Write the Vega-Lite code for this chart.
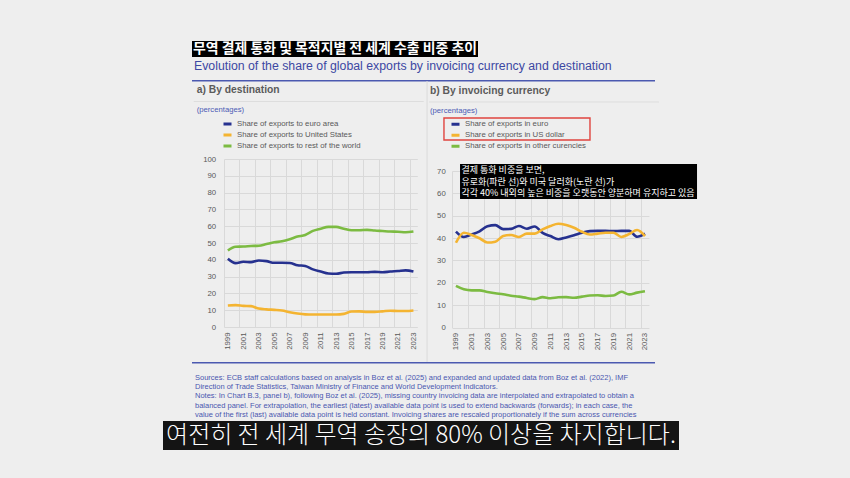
{
  "$schema": "https://vega.github.io/schema/vega-lite/v6.json",
  "background": "#eeeeee",
  "padding": {"left": 163, "top": 41, "right": 180, "bottom": 40},
  "config": {
    "view": {"stroke": null},
    "concat": {"spacing": 0},
    "font": "Liberation Sans",
    "axis": {"gridColor": "#d9d9d9", "gridWidth": 1, "labelColor": "#595959", "labelFont": "Liberation Sans", "labelFontSize": 7.8, "ticks": false, "domain": false}
  },
  "datasets": {
    "dest": [
      {"year":1999,"series":"euro area","value":40.6},{"year":1999,"series":"United States","value":12.8},{"year":1999,"series":"rest of the world","value":45.5},
      {"year":2000,"series":"euro area","value":38.0},{"year":2000,"series":"United States","value":13.0},{"year":2000,"series":"rest of the world","value":47.8},
      {"year":2001,"series":"euro area","value":38.8},{"year":2001,"series":"United States","value":12.6},{"year":2001,"series":"rest of the world","value":47.9},
      {"year":2002,"series":"euro area","value":38.6},{"year":2002,"series":"United States","value":12.4},{"year":2002,"series":"rest of the world","value":48.2},
      {"year":2003,"series":"euro area","value":39.6},{"year":2003,"series":"United States","value":11.0},{"year":2003,"series":"rest of the world","value":48.4},
      {"year":2004,"series":"euro area","value":39.2},{"year":2004,"series":"United States","value":10.5},{"year":2004,"series":"rest of the world","value":49.4},
      {"year":2005,"series":"euro area","value":38.2},{"year":2005,"series":"United States","value":10.2},{"year":2005,"series":"rest of the world","value":50.4},
      {"year":2006,"series":"euro area","value":38.2},{"year":2006,"series":"United States","value":9.8},{"year":2006,"series":"rest of the world","value":51.0},
      {"year":2007,"series":"euro area","value":38.1},{"year":2007,"series":"United States","value":8.8},{"year":2007,"series":"rest of the world","value":52.2},
      {"year":2008,"series":"euro area","value":36.8},{"year":2008,"series":"United States","value":8.0},{"year":2008,"series":"rest of the world","value":53.8},
      {"year":2009,"series":"euro area","value":36.3},{"year":2009,"series":"United States","value":7.5},{"year":2009,"series":"rest of the world","value":54.8},
      {"year":2010,"series":"euro area","value":34.3},{"year":2010,"series":"United States","value":7.4},{"year":2010,"series":"rest of the world","value":57.2},
      {"year":2011,"series":"euro area","value":33.0},{"year":2011,"series":"United States","value":7.4},{"year":2011,"series":"rest of the world","value":58.5},
      {"year":2012,"series":"euro area","value":31.8},{"year":2012,"series":"United States","value":7.4},{"year":2012,"series":"rest of the world","value":59.6},
      {"year":2013,"series":"euro area","value":31.7},{"year":2013,"series":"United States","value":7.4},{"year":2013,"series":"rest of the world","value":59.6},
      {"year":2014,"series":"euro area","value":32.4},{"year":2014,"series":"United States","value":7.8},{"year":2014,"series":"rest of the world","value":58.5},
      {"year":2015,"series":"euro area","value":32.6},{"year":2015,"series":"United States","value":9.2},{"year":2015,"series":"rest of the world","value":57.6},
      {"year":2016,"series":"euro area","value":32.6},{"year":2016,"series":"United States","value":9.3},{"year":2016,"series":"rest of the world","value":57.6},
      {"year":2017,"series":"euro area","value":32.6},{"year":2017,"series":"United States","value":9.0},{"year":2017,"series":"rest of the world","value":57.8},
      {"year":2018,"series":"euro area","value":32.8},{"year":2018,"series":"United States","value":9.0},{"year":2018,"series":"rest of the world","value":57.4},
      {"year":2019,"series":"euro area","value":32.6},{"year":2019,"series":"United States","value":9.3},{"year":2019,"series":"rest of the world","value":57.1},
      {"year":2020,"series":"euro area","value":33.0},{"year":2020,"series":"United States","value":9.7},{"year":2020,"series":"rest of the world","value":56.8},
      {"year":2021,"series":"euro area","value":33.3},{"year":2021,"series":"United States","value":9.5},{"year":2021,"series":"rest of the world","value":56.7},
      {"year":2022,"series":"euro area","value":33.7},{"year":2022,"series":"United States","value":9.5},{"year":2022,"series":"rest of the world","value":56.4},
      {"year":2023,"series":"euro area","value":33.0},{"year":2023,"series":"United States","value":9.8},{"year":2023,"series":"rest of the world","value":56.8}
    ],
    "curr": [
      {"year":1999,"series":"euro","value":42.9},{"year":1999,"series":"US dollar","value":37.9},{"year":1999,"series":"other curencies","value":18.6},
      {"year":2000,"series":"euro","value":40.5},{"year":2000,"series":"US dollar","value":42.4},{"year":2000,"series":"other curencies","value":17.1},
      {"year":2001,"series":"euro","value":41.6},{"year":2001,"series":"US dollar","value":41.4},{"year":2001,"series":"other curencies","value":16.6},
      {"year":2002,"series":"euro","value":43.0},{"year":2002,"series":"US dollar","value":39.9},{"year":2002,"series":"other curencies","value":16.6},
      {"year":2003,"series":"euro","value":45.3},{"year":2003,"series":"US dollar","value":38.0},{"year":2003,"series":"other curencies","value":15.9},
      {"year":2004,"series":"euro","value":45.8},{"year":2004,"series":"US dollar","value":38.4},{"year":2004,"series":"other curencies","value":15.3},
      {"year":2005,"series":"euro","value":44.0},{"year":2005,"series":"US dollar","value":40.9},{"year":2005,"series":"other curencies","value":14.9},
      {"year":2006,"series":"euro","value":44.1},{"year":2006,"series":"US dollar","value":41.4},{"year":2006,"series":"other curencies","value":14.2},
      {"year":2007,"series":"euro","value":45.4},{"year":2007,"series":"US dollar","value":40.5},{"year":2007,"series":"other curencies","value":13.8},
      {"year":2008,"series":"euro","value":44.2},{"year":2008,"series":"US dollar","value":42.0},{"year":2008,"series":"other curencies","value":13.2},
      {"year":2009,"series":"euro","value":45.2},{"year":2009,"series":"US dollar","value":42.0},{"year":2009,"series":"other curencies","value":12.7},
      {"year":2010,"series":"euro","value":42.3},{"year":2010,"series":"US dollar","value":43.9},{"year":2010,"series":"other curencies","value":13.6},
      {"year":2011,"series":"euro","value":40.9},{"year":2011,"series":"US dollar","value":45.4},{"year":2011,"series":"other curencies","value":13.1},
      {"year":2012,"series":"euro","value":39.5},{"year":2012,"series":"US dollar","value":46.4},{"year":2012,"series":"other curencies","value":13.5},
      {"year":2013,"series":"euro","value":40.3},{"year":2013,"series":"US dollar","value":45.8},{"year":2013,"series":"other curencies","value":13.6},
      {"year":2014,"series":"euro","value":41.3},{"year":2014,"series":"US dollar","value":44.6},{"year":2014,"series":"other curencies","value":13.3},
      {"year":2015,"series":"euro","value":42.4},{"year":2015,"series":"US dollar","value":42.8},{"year":2015,"series":"other curencies","value":13.8},
      {"year":2016,"series":"euro","value":43.1},{"year":2016,"series":"US dollar","value":41.6},{"year":2016,"series":"other curencies","value":14.3},
      {"year":2017,"series":"euro","value":43.2},{"year":2017,"series":"US dollar","value":42.0},{"year":2017,"series":"other curencies","value":14.4},
      {"year":2018,"series":"euro","value":43.2},{"year":2018,"series":"US dollar","value":42.4},{"year":2018,"series":"other curencies","value":14.1},
      {"year":2019,"series":"euro","value":43.1},{"year":2019,"series":"US dollar","value":42.4},{"year":2019,"series":"other curencies","value":14.3},
      {"year":2020,"series":"euro","value":43.2},{"year":2020,"series":"US dollar","value":40.5},{"year":2020,"series":"other curencies","value":16.0},
      {"year":2021,"series":"euro","value":43.2},{"year":2021,"series":"US dollar","value":41.8},{"year":2021,"series":"other curencies","value":14.8},
      {"year":2022,"series":"euro","value":40.6},{"year":2022,"series":"US dollar","value":43.6},{"year":2022,"series":"other curencies","value":15.6},
      {"year":2023,"series":"euro","value":42.0},{"year":2023,"series":"US dollar","value":40.9},{"year":2023,"series":"other curencies","value":16.2}
    ]
  },
  "bounds": "flush",
  "spacing": 0,
  "resolve": {"scale": {"color": "independent"}, "legend": {"color": "independent"}},
  "vconcat": [
    {
      "bounds": "flush", "spacing": 0,
      "hconcat": [
        {"width": 29, "height": 16, "data": {"values": [{}]}, "mark": "text", "encoding": {"text": {"value": ""}}},
        {"width": 286, "height": 16, "view": {"fill": "#000000", "stroke": null},
         "data": {"values": [{}]},
         "mark": {"type": "text", "font": "Noto Sans CJK KR", "fontSize": 13.9, "fontWeight": "bold", "color": "#ffffff", "align": "center", "baseline": "middle"},
         "encoding": {"text": {"value": "무역 결제 통화 및 목적지별 전 세계 수출 비중 추이"}}}
      ]
    },
    {"width": 1, "height": 39, "data": {"values": [{}]}, "mark": "text", "encoding": {"text": {"value": ""}}},
    {
      "bounds": "flush", "spacing": 0,
      "hconcat": [
        {"width": 29, "height": 1.5, "data": {"values": [{}]}, "mark": "text", "encoding": {"text": {"value": ""}}},
        {"width": 463, "height": 1.5, "view": {"fill": "#4b59b0", "stroke": null},
         "title": {"text": "Evolution of the share of global exports by invoicing currency and destination", "orient": "top", "anchor": "start", "frame": "group", "dx": 2, "offset": 2, "font": "Liberation Sans", "fontSize": 12.3, "fontWeight": "normal", "color": "#3c48a3"},
         "data": {"values": [{}]}, "mark": "text", "encoding": {"text": {"value": ""}}}
      ]
    },
    {"width": 1, "height": 78.5, "data": {"values": [{}]}, "mark": "text", "encoding": {"text": {"value": ""}}},
    {
      "bounds": "flush", "spacing": 0,
      "resolve": {"scale": {"color": "independent"}, "legend": {"color": "independent"}},
      "hconcat": [
        {"width": 60.3, "height": 1, "data": {"values": [{}]}, "mark": "text", "encoding": {"text": {"value": ""}}},
        {
          "width": 193.3, "height": 168,
          "title": {"text": "a) By destination", "subtitle": "(percentages)", "orient": "top", "anchor": "start", "frame": "group", "dx": -27.3, "offset": -13, "font": "Liberation Sans", "fontSize": 10.3, "fontWeight": "bold", "color": "#5b5b5b", "subtitleFont": "Liberation Sans", "subtitleFontSize": 7.7, "subtitleColor": "#4c5bb5", "subtitlePadding": 11},
          "resolve": {"axis": {"x": "independent", "y": "independent"}},
          "layer": [
            {"data": {"name": "dest"}, "mark": {"type": "line", "strokeWidth": 2.6, "interpolate": "monotone"},
             "encoding": {
               "x": {"field": "year", "type": "quantitative", "title": null, "scale": {"domain": [1998.5, 2023.5], "nice": false, "zero": false},
                     "axis": {"values": [1998.5, 2000.5, 2002.5, 2004.5, 2006.5, 2008.5, 2010.5, 2012.5, 2014.5, 2016.5, 2018.5, 2020.5, 2022.5], "labelExpr": "datum.value + 0.5", "labelAngle": -90, "labelAlign": "right", "labelBaseline": "middle", "labelOffset": 3.87, "labelPadding": 5, "labelFlush": false, "labelOverlap": false, "grid": true, "title": null}},
               "y": {"field": "value", "type": "quantitative", "title": null, "scale": {"domain": [0, 100], "nice": false},
                     "axis": {"values": [0, 10, 20, 30, 40, 50, 60, 70, 80, 90, 100], "grid": true, "labelPadding": 8.3, "labelOverlap": false, "labelFlush": false, "title": null}},
               "color": {"field": "series", "type": "nominal",
                         "scale": {"domain": ["euro area", "United States", "rest of the world"], "range": ["#26318f", "#f4b431", "#7cbb42"]},
                         "legend": {"orient": "none", "legendX": -2, "legendY": -40.4, "title": null, "padding": 0, "symbolType": "stroke", "symbolStrokeWidth": 3, "symbolSize": 64, "labelOffset": 4, "rowPadding": 0, "clipHeight": 10.7, "labelFont": "Liberation Sans", "labelFontSize": 7.8, "labelColor": "#595959", "labelExpr": "'Share of exports to ' + datum.label"}}
             }},
            {"data": {"values": [{}]}, "mark": {"type": "rule", "color": "#dddddd", "strokeWidth": 1},
             "encoding": {
               "x": {"datum": 1994.58, "type": "quantitative", "axis": null},
               "x2": {"datum": 2024.33},
               "y": {"datum": 134.23, "type": "quantitative", "axis": null}}}
          ]
        },
        {"width": 33.4, "height": 1, "data": {"values": [{}]}, "mark": "text", "encoding": {"text": {"value": ""}}},
        {
          "bounds": "flush", "spacing": 0,
          "vconcat": [
            {"width": 1, "height": 11.5, "data": {"values": [{}]}, "mark": "text", "encoding": {"text": {"value": ""}}},
            {
              "width": 196.9, "height": 156.5,
              "title": {"text": "b) By invoicing currency", "subtitle": "(percentages)", "orient": "top", "anchor": "start", "frame": "group", "dx": -22, "offset": -34, "font": "Liberation Sans", "fontSize": 10.3, "fontWeight": "bold", "color": "#5b5b5b", "subtitleFont": "Liberation Sans", "subtitleFontSize": 7.7, "subtitleColor": "#4c5bb5", "subtitlePadding": 10},
              "resolve": {"axis": {"x": "independent", "y": "independent"}},
              "layer": [
                {"data": {"name": "curr"}, "mark": {"type": "line", "strokeWidth": 2.6, "interpolate": "monotone"},
                 "encoding": {
                   "x": {"field": "year", "type": "quantitative", "title": null, "scale": {"domain": [1998.5, 2023.5], "nice": false, "zero": false},
                         "axis": {"values": [1998.5, 2000.5, 2002.5, 2004.5, 2006.5, 2008.5, 2010.5, 2012.5, 2014.5, 2016.5, 2018.5, 2020.5, 2022.5], "labelExpr": "datum.value + 0.5", "labelAngle": -90, "labelAlign": "right", "labelBaseline": "middle", "labelOffset": 3.94, "labelPadding": 5, "labelFlush": false, "labelOverlap": false, "grid": true, "title": null}},
                   "y": {"field": "value", "type": "quantitative", "title": null, "scale": {"domain": [0, 70], "nice": false},
                         "axis": {"values": [0, 10, 20, 30, 40, 50, 60, 70], "grid": true, "labelPadding": 6.7, "labelOverlap": false, "labelFlush": false, "title": null}},
                   "color": {"field": "series", "type": "nominal",
                             "scale": {"domain": ["euro", "US dollar", "other curencies"], "range": ["#26318f", "#f4b431", "#7cbb42"]},
                             "legend": {"orient": "none", "legendX": -2, "legendY": -40.2, "title": null, "padding": 0, "symbolType": "stroke", "symbolStrokeWidth": 3, "symbolSize": 64, "labelOffset": 4, "rowPadding": 0, "clipHeight": 10.7, "labelFont": "Liberation Sans", "labelFontSize": 7.8, "labelColor": "#595959", "labelExpr": "'Share of exports in ' + datum.label"}}
                 }},
                {"data": {"values": [{}]}, "mark": {"type": "rule", "color": "#dadada", "strokeWidth": 1},
                 "encoding": {
                   "x": {"datum": 1995.33, "type": "quantitative", "axis": null},
                   "y": {"datum": 110.26, "type": "quantitative", "axis": null},
                   "y2": {"datum": -15.43}}},
                {"data": {"values": [{}]}, "mark": {"type": "rule", "color": "#dddddd", "strokeWidth": 1},
                 "encoding": {
                   "x": {"datum": 1995.58, "type": "quantitative", "axis": null},
                   "x2": {"datum": 2024.78},
                   "y": {"datum": 100.86, "type": "quantitative", "axis": null}}},
                {"data": {"values": [{}]}, "mark": {"type": "rect", "fill": "transparent", "stroke": "#e0443f", "strokeWidth": 1.4},
                 "encoding": {
                   "x": {"datum": 1997.48, "type": "quantitative", "axis": null},
                   "x2": {"datum": 2016.02},
                   "y": {"datum": 93.71, "type": "quantitative", "axis": null},
                   "y2": {"datum": 83.87}}},
                {"data": {"values": [{}]}, "mark": {"type": "rect", "fill": "#000000"},
                 "encoding": {
                   "x": {"datum": 1999.52, "type": "quantitative", "axis": null},
                   "x2": {"datum": 2029.61},
                   "y": {"datum": 73.13, "type": "quantitative", "axis": null},
                   "y2": {"datum": 57.48}}},
                {"data": {"values": [{}]}, "mark": {"type": "text", "align": "left", "baseline": "middle", "font": "Noto Sans CJK KR", "fontSize": 9, "color": "#ffffff", "lineHeight": 11.7},
                 "encoding": {
                   "x": {"datum": 1999.7, "type": "quantitative", "axis": null},
                   "y": {"datum": 70.45, "type": "quantitative", "axis": null},
                   "text": {"value": ["결제 통화 비중을 보면,", "유로화(파란 선)와 미국 달러화(노란 선)가", "각각 40% 내외의 높은 비중을 오랫동안 양분하며 유지하고 있음"]}}}
              ]
            }
          ]
        }
      ]
    },
    {"width": 1, "height": 202.5, "data": {"values": [{}]}, "mark": "text", "encoding": {"text": {"value": ""}}},
    {
      "bounds": "flush", "spacing": 0,
      "hconcat": [
        {"width": 29, "height": 1.5, "data": {"values": [{}]}, "mark": "text", "encoding": {"text": {"value": ""}}},
        {"width": 463, "height": 1.5, "view": {"fill": "#4b59b0", "stroke": null},
         "title": {"text": [
           "Sources: ECB staff calculations based on analysis in Boz et al. (2025) and expanded and updated data from Boz et al. (2022), IMF",
           "Direction of Trade Statistics, Taiwan Ministry of Finance and World Development Indicators.",
           "Notes: In Chart B.3, panel b), following Boz et al. (2025), missing country invoicing data are interpolated and extrapolated to obtain a",
           "balanced panel. For extrapolation, the earliest (latest) available data point is used to extend backwards (forwards); in each case, the",
           "value of the first (last) available data point is held constant. Invoicing shares are rescaled proportionately if the sum across currencies",
           "exceeds 100%. Estimates exclude the US but include the euro area countries, in line with Gopinath (2015). If euro area countries are"
         ], "orient": "bottom", "anchor": "start", "frame": "group", "dx": 3, "offset": 6, "baseline": "top", "font": "Liberation Sans", "fontSize": 7.5, "fontWeight": "normal", "color": "#4a57b0", "lineHeight": 9.3},
         "data": {"values": [{}]}, "mark": "text", "encoding": {"text": {"value": ""}}}
      ]
    },
    {"width": 1, "height": 59, "data": {"values": [{}]}, "mark": "text", "encoding": {"text": {"value": ""}}},
    {"width": 516, "height": 29, "view": {"fill": "#141414", "stroke": null},
     "data": {"values": [{}]},
     "mark": {"type": "text", "font": "Noto Sans CJK KR", "fontSize": 24, "fontWeight": 300, "color": "#ffffff", "align": "center", "baseline": "middle"},
     "encoding": {"text": {"value": "여전히 전 세계 무역 송장의 80% 이상을 차지합니다."}}}
  ]
}
